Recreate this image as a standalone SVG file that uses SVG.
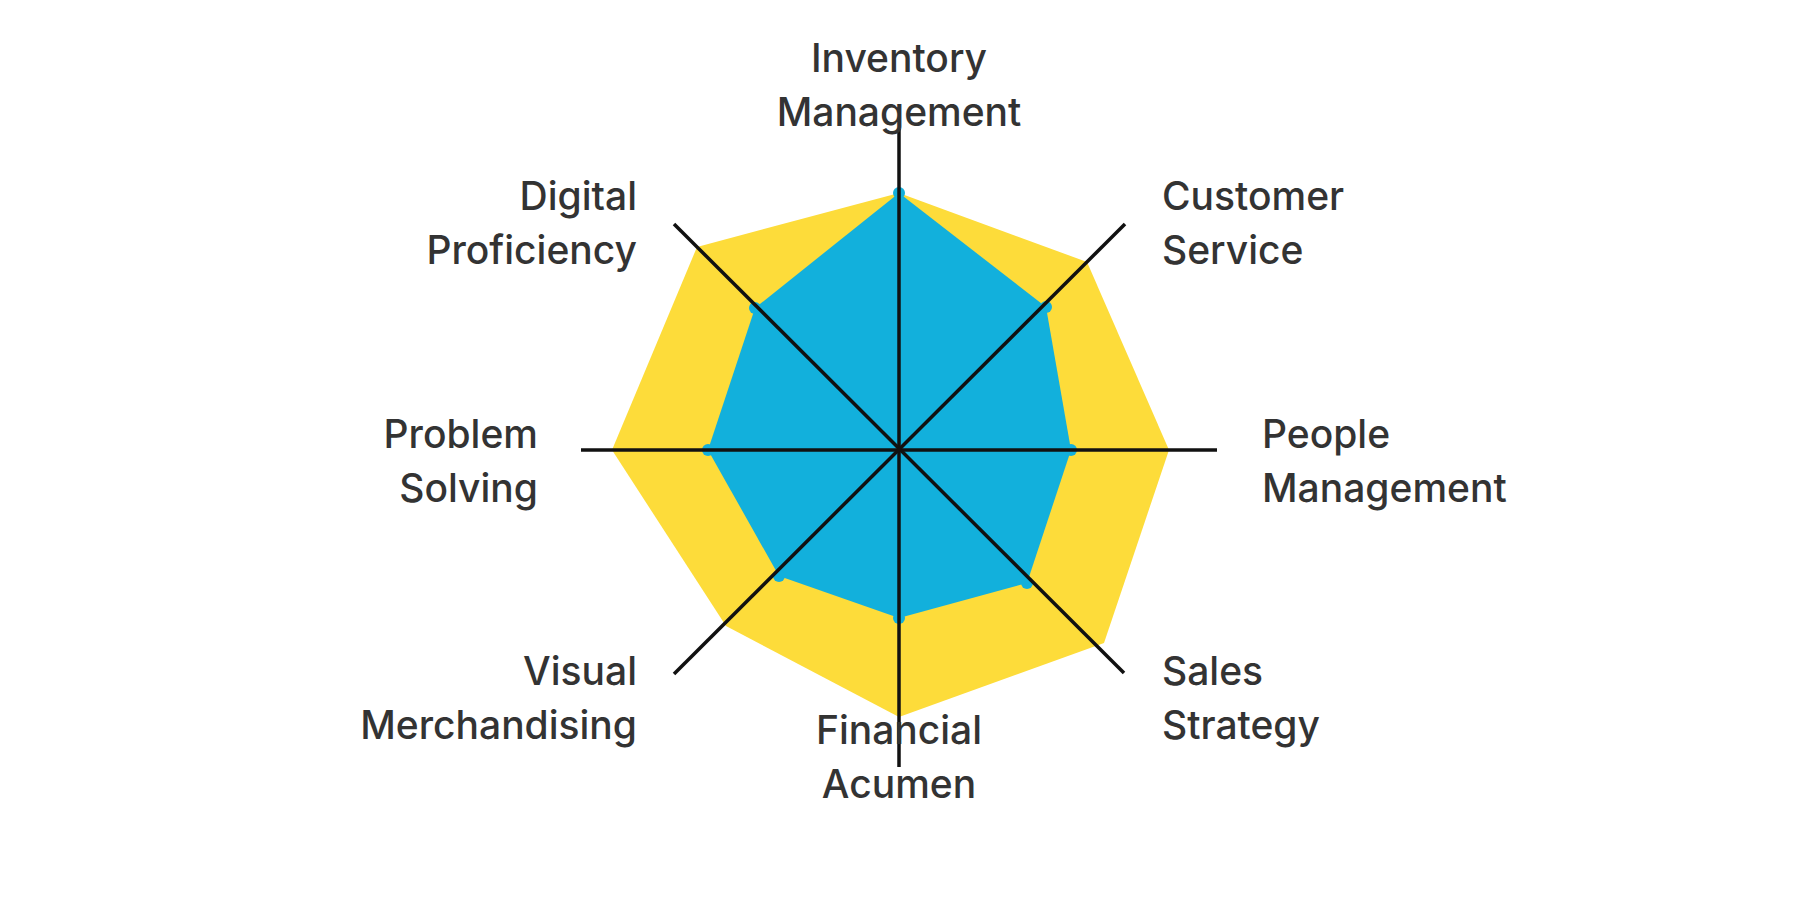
<svg xmlns="http://www.w3.org/2000/svg" width="1800" height="900" viewBox="0 0 1800 900">
<style>
.l{font-family:Inter,"Open Sans",sans-serif;font-size:39px;font-weight:500;fill:#333}
.ax{stroke:#111;stroke-width:3.5}
.d{fill:#12B0DC}
</style>
<rect width="1800" height="900" fill="#fff"/>
<g id="series-yellow"><polygon points="899,193 1087,262 1169,450 1104,643 899,717 726,626 612,450 697,247" fill="#FDDC3A"/></g>
<g id="series-blue"><polygon points="899,193 1046,307 1071,450 1027,583 899,618 779,576 708,450 755,308" fill="#12B0DC"/>
<circle class="d" cx="899" cy="193" r="6"/><circle class="d" cx="1046" cy="307" r="6"/><circle class="d" cx="1071" cy="450" r="6"/><circle class="d" cx="1027" cy="583" r="6"/><circle class="d" cx="899" cy="618" r="6"/><circle class="d" cx="779" cy="576" r="6"/><circle class="d" cx="708" cy="450" r="6"/><circle class="d" cx="755" cy="308" r="6"/></g>
<g id="connectors">
<line class="ax" x1="899" y1="129" x2="899" y2="767"/>
<line class="ax" x1="581" y1="450" x2="1217" y2="450"/>
<line class="ax" x1="674" y1="224" x2="1124" y2="673"/>
<line class="ax" x1="1125" y1="224" x2="674" y2="674"/>
</g>
<g id="inventory"><text class="l" text-anchor="middle" x="899" y="72">Inventory</text><text class="l" text-anchor="middle" x="899" y="126">Management</text></g>
<g id="digital"><text class="l" text-anchor="end" x="637" y="210">Digital</text><text class="l" text-anchor="end" x="637" y="264">Proficiency</text></g>
<g id="customer"><text class="l" x="1162" y="210">Customer</text><text class="l" x="1162" y="264">Service</text></g>
<g id="problem"><text class="l" text-anchor="end" x="538" y="448">Problem</text><text class="l" text-anchor="end" x="538" y="502">Solving</text></g>
<g id="people"><text class="l" x="1262" y="448">People</text><text class="l" x="1262" y="502">Management</text></g>
<g id="visual"><text class="l" text-anchor="end" x="637" y="685">Visual</text><text class="l" text-anchor="end" x="637" y="739">Merchandising</text></g>
<g id="sales"><text class="l" x="1162" y="685">Sales</text><text class="l" x="1162" y="739">Strategy</text></g>
<g id="financial"><text class="l" text-anchor="middle" x="899" y="744">Financial</text><text class="l" text-anchor="middle" x="899" y="798">Acumen</text></g>
</svg>
